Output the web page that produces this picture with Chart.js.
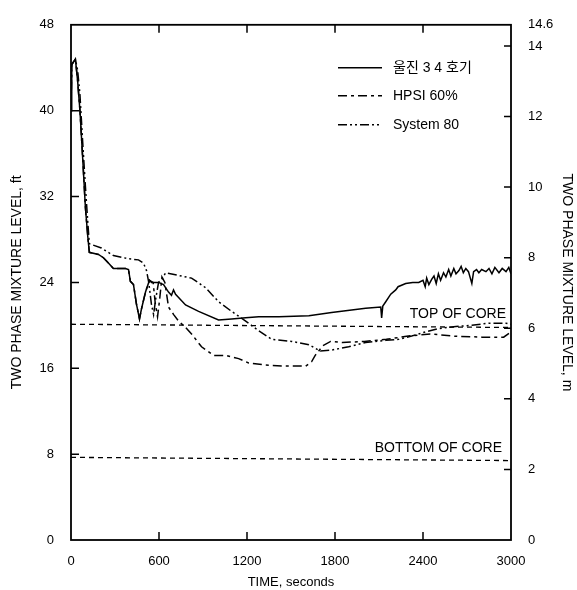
<!DOCTYPE html>
<html>
<head>
<meta charset="utf-8">
<script src="https://cdn.jsdelivr.net/npm/chart.js@4.4.0/dist/chart.umd.min.js"></script>
<style>
  body { margin: 0; background: #fff; }
  #wrap { width: 577px; height: 590px; }
</style>
</head>
<body>
<div id="wrap"><canvas id="chart" width="577" height="590"></canvas></div>
<script>
// values: time in seconds, level in ft
var seriesNames = ["울진 3 4 호기", "HPSI 60%", "System 80"];

var solidTime  = [0, 5, 30, 45, 61, 80, 98, 115, 125, 187, 221, 255, 289, 371, 392, 405, 426, 446, 467, 480, 508, 535, 549, 576, 597, 631, 665, 685, 699, 713, 781, 870, 1006, 1095, 1191, 1280, 1417, 1622, 1777, 2009, 2112, 2118, 2126, 2146, 2180, 2214, 2230, 2282, 2330, 2371, 2400, 2415, 2425, 2440, 2460, 2475, 2490, 2505, 2520, 2540, 2556, 2575, 2590, 2610, 2625, 2645, 2660, 2675, 2692, 2710, 2733, 2745, 2765, 2781, 2800, 2829, 2850, 2870, 2890, 2918, 2940, 2966, 2985, 3000];
var solidLevel = [40.0, 44.3, 44.8, 42.8, 40.0, 35.5, 31.0, 28.2, 26.8, 26.6, 26.3, 25.8, 25.3, 25.3, 25.2, 24.1, 23.8, 22.0, 20.6, 21.5, 23.1, 24.2, 24.0, 24.0, 24.0, 23.8, 23.1, 22.8, 23.3, 22.9, 21.9, 21.3, 20.5, 20.6, 20.7, 20.8, 20.8, 20.9, 21.2, 21.6, 21.7, 20.7, 21.8, 22.2, 22.9, 23.3, 23.6, 23.9, 24.0, 24.0, 24.2, 23.6, 24.4, 23.8, 24.3, 24.6, 23.9, 24.8, 24.2, 24.9, 24.5, 25.2, 24.6, 25.3, 24.8, 25.1, 25.5, 24.9, 25.3, 25.0, 23.9, 25.0, 25.2, 24.9, 25.2, 25.0, 25.3, 24.8, 25.4, 24.9, 25.3, 25.0, 25.4, 24.8];

var hpsiTime  = [0, 5, 30, 45, 61, 80, 98, 115, 125, 187, 221, 255, 289, 371, 392, 405, 426, 446, 467, 480, 508, 535, 560, 575, 590, 605, 620, 640, 665, 700, 733, 781, 822, 890, 972, 1054, 1143, 1211, 1327, 1464, 1600, 1640, 1665, 1718, 1770, 1850, 2000, 2150, 2300, 2450, 2600, 2800, 2950, 3000];
var hpsiLevel = [40.0, 44.3, 44.8, 42.8, 40.0, 35.5, 31.0, 28.2, 26.8, 26.6, 26.3, 25.8, 25.3, 25.3, 25.2, 24.1, 23.8, 22.0, 20.6, 21.5, 23.1, 24.2, 24.0, 22.0, 20.8, 22.5, 24.5, 24.0, 21.7, 21.0, 20.4, 19.8, 19.2, 18.0, 17.2, 17.2, 16.9, 16.5, 16.3, 16.2, 16.2, 16.6, 17.2, 18.1, 18.5, 18.4, 18.5, 18.7, 19.0, 19.2, 19.0, 18.9, 18.9, 19.4];

var sys80Time  = [0, 5, 30, 45, 61, 80, 98, 115, 125, 207, 289, 392, 460, 494, 515, 530, 548, 563, 578, 597, 620, 645, 822, 918, 1006, 1095, 1191, 1280, 1368, 1505, 1622, 1700, 1777, 1893, 2009, 2146, 2234, 2323, 2419, 2508, 2624, 2733, 2849, 2966, 3000];
var sys80Level = [40.0, 44.3, 44.8, 43.8, 41.5, 37.0, 33.0, 29.5, 27.6, 27.2, 26.5, 26.2, 26.1, 25.8, 25.1, 24.0, 22.0, 21.0, 22.5, 24.0, 24.3, 24.9, 24.4, 23.5, 22.2, 21.3, 20.4, 19.5, 18.7, 18.5, 18.2, 17.6, 17.7, 18.0, 18.4, 18.6, 18.7, 19.0, 19.4, 19.7, 19.9, 20.0, 20.2, 20.2, 20.1];

var coreTime = [0, 3000];
var topOfCore = [20.1, 19.8];
var bottomOfCore = [7.7, 7.4];

var xTicks = [0, 600, 1200, 1800, 2400, 3000];
var ftTicks = [0, 8, 16, 24, 32, 40, 48];
var mTicks = [0, 2, 4, 6, 8, 10, 12, 14, 14.6];

function pts(t, v) {
  return t.map(function (x, i) { return { x: x, y: v[i] }; });
}

var FONT = '"Liberation Sans", Arial, "Noto Sans CJK KR", sans-serif';
Chart.defaults.font.family = FONT;
Chart.defaults.color = '#000';

// frame, inward tick marks, legend and core labels
var decor = {
  id: 'decor',
  beforeDraw: function (chart) {
    var c = chart.ctx;
    c.save();
    c.fillStyle = '#fff';
    c.fillRect(0, 0, chart.width, chart.height);
    c.restore();
  },
  afterDraw: function (chart) {
    var c = chart.ctx, a = chart.chartArea, s = chart.scales;
    c.save();
    c.strokeStyle = '#000';
    c.lineWidth = 1.8;
    c.setLineDash([]);
    c.strokeRect(a.left, a.top, a.right - a.left, a.bottom - a.top);

    c.lineWidth = 1.5;
    c.beginPath();
    xTicks.slice(1, -1).forEach(function (v) {
      var px = s.x.getPixelForValue(v);
      c.moveTo(px, a.bottom); c.lineTo(px, a.bottom - 8);
      c.moveTo(px, a.top); c.lineTo(px, a.top + 8);
    });
    ftTicks.slice(1, -1).forEach(function (v) {
      var py = s.y.getPixelForValue(v);
      c.moveTo(a.left, py); c.lineTo(a.left + 8, py);
    });
    mTicks.filter(function (v) { return v > 0 && v < 14.6; }).forEach(function (v) {
      var py = s.y1.getPixelForValue(v);
      c.moveTo(a.right, py); c.lineTo(a.right - 7, py);
    });
    c.stroke();

    // legend
    c.font = '14px ' + FONT;
    c.textBaseline = 'middle';
    c.textAlign = 'left';
    c.fillStyle = '#000';
    var rows = [43, 71, 100];
    for (var i = 0; i < 3; i++) {
      var ds = chart.data.datasets[i];
      var y = a.top + rows[i];
      c.lineWidth = 1.5;
      c.setLineDash(ds.borderDash || []);
      c.beginPath();
      c.moveTo(a.left + 267, y);
      c.lineTo(a.left + 311, y);
      c.stroke();
      c.fillText(ds.label, a.left + 322, y);
    }

    // core labels
    c.setLineDash([]);
    c.textAlign = 'right';
    c.fillText('TOP OF CORE', a.right - 5, s.y.getPixelForValue(topOfCore[1]) - 13);
    c.fillText('BOTTOM OF CORE', a.right - 9, s.y.getPixelForValue(bottomOfCore[1]) - 12);
    c.restore();
  }
};

var lineBase = { borderColor: '#000', borderWidth: 1.5, pointRadius: 0, tension: 0, fill: false };

new Chart(document.getElementById('chart'), {
  type: 'line',
  data: {
    datasets: [
      Object.assign({ label: seriesNames[0], data: pts(solidTime, solidLevel) }, lineBase),
      Object.assign({ label: seriesNames[1], data: pts(hpsiTime, hpsiLevel), borderDash: [9, 4, 3, 4] }, lineBase),
      Object.assign({ label: seriesNames[2], data: pts(sys80Time, sys80Level), borderDash: [9, 3, 2, 3, 2, 3] }, lineBase),
      Object.assign({ label: 'top', data: pts(coreTime, topOfCore), borderDash: [5, 4] }, lineBase, { borderWidth: 1.3 }),
      Object.assign({ label: 'bottom', data: pts(coreTime, bottomOfCore), borderDash: [5, 4] }, lineBase, { borderWidth: 1.3 })
    ]
  },
  options: {
    responsive: false,
    animation: false,
    layout: { padding: { top: 17, left: 0, right: 0, bottom: 0 } },
    plugins: { legend: { display: false }, tooltip: { enabled: false } },
    scales: {
      x: {
        type: 'linear', min: 0, max: 3000,
        afterBuildTicks: function (ax) { ax.ticks = xTicks.map(function (v) { return { value: v }; }); },
        ticks: { font: { size: 13 }, padding: 14, maxRotation: 0, callback: function (v) { return String(v); } },
        grid: { display: false, drawTicks: false },
        border: { display: false },
        title: { display: true, text: 'TIME, seconds', font: { size: 13 }, padding: { top: 5, bottom: 0 } },
        afterFit: function (ax) { ax.height = 50; }
      },
      y: {
        position: 'left', min: 0, max: 48,
        afterBuildTicks: function (ax) { ax.ticks = ftTicks.map(function (v) { return { value: v }; }); },
        ticks: { font: { size: 13 }, padding: 17, callback: function (v) { return String(v); } },
        grid: { display: false, drawTicks: false },
        border: { display: false },
        title: { display: true, text: 'TWO PHASE MIXTURE LEVEL, ft', font: { size: 14 }, padding: { top: 9, bottom: 0 } },
        afterFit: function (ax) { ax.width = 71; }
      },
      y1: {
        position: 'right', min: 0, max: 14.6,
        afterBuildTicks: function (ax) { ax.ticks = mTicks.map(function (v) { return { value: v }; }); },
        ticks: { font: { size: 13 }, padding: 17, callback: function (v) { return String(v); } },
        grid: { display: false, drawTicks: false },
        border: { display: false },
        title: { display: true, text: 'TWO PHASE MIXTURE LEVEL, m', font: { size: 14 }, padding: { top: 2, bottom: 0 } },
        afterFit: function (ax) { ax.width = 66; }
      }
    }
  },
  plugins: [decor]
});
</script>
</body>
</html>
